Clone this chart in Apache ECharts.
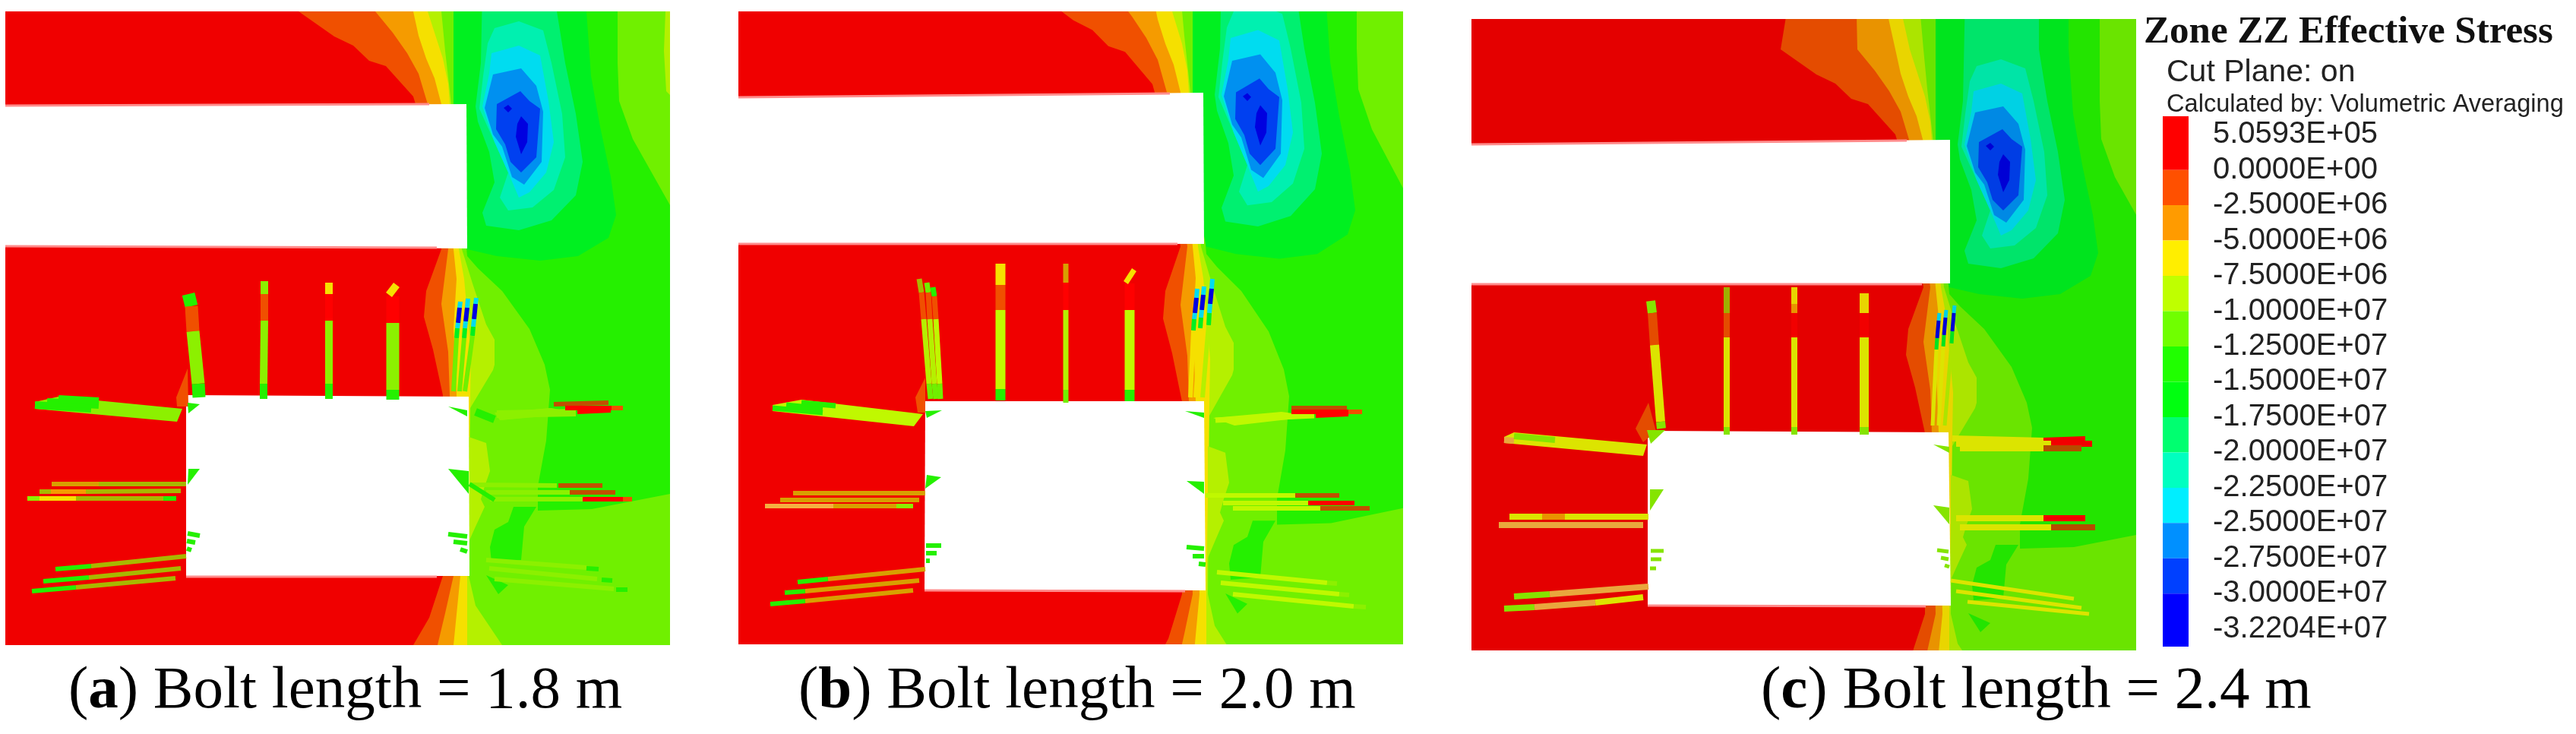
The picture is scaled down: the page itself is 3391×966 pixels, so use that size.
<!DOCTYPE html>
<html>
<head>
<meta charset="utf-8">
<title>Zone ZZ Effective Stress</title>
<style>
    html, body { margin: 0; padding: 0; background: #fff; }
    #main { width: 3391px; height: 966px; }
</style>
<script src="https://cdn.jsdelivr.net/npm/echarts@6/dist/echarts.min.js"></script>
</head>
<body>
<div id="main"></div>
<script>
    // legend
    const legendLabels = ['5.0593E+05', '0.0000E+00', '-2.5000E+06', '-5.0000E+06', '-7.5000E+06', '-1.0000E+07', '-1.2500E+07',
        '-1.5000E+07', '-1.7500E+07', '-2.0000E+07', '-2.2500E+07', '-2.5000E+07', '-2.7500E+07', '-3.0000E+07', '-3.2204E+07'];
    const legendEdges = [-0.52, 1, 2, 3, 4, 5, 6, 7, 8, 9, 10, 11, 12, 13, 14.5];
    const legendColors = ['#ff0000', '#ff5000', '#ff9b00', '#ffee00', '#bfff00', '#70ff00', '#20ff00',
        '#00ff10', '#00ff70', '#00ffc0', '#00eeff', '#0090ff', '#0040ff', '#0000ff'];
    const captions = [['a', '1.8'], ['b', '2.0'], ['c', '2.4']];

    // stress levels in the model (0-13), then the blended shades seen on the bolts (14+)
    const levelColors = ['#f00000', '#f05000', '#f59b00', '#f5e000', '#b5f000', '#70f000', '#25f000',
        '#00f020', '#00f070', '#00f0b0', '#00dcf0', '#0090f0', '#0040f0', '#0000e0',
        '#a8b800', '#d8a000', '#c05000', '#8cf000', '#c0f800', '#f5b040', '#e8f000', '#ff0000', '#ff8c8c'];

    // contour boundaries, x/y in model units; the area right of each one takes the level
    const edgeOrange = [[402, -40], [393, 15], [440, 48], [465, 60], [486, 80], [508, 87], [526, 107], [544, 127], [547, 137],
        [581, 328], [561, 383], [558, 417], [570, 460], [583, 520], [583, 758], [565, 813], [544, 849], [526, 887]];
    const edgeAmber = [[493, -30], [494, 15], [517, 43], [536, 70], [551, 97], [563, 137],
        [590, 328], [581, 400], [590, 463], [592, 520], [597, 758], [586, 807], [576, 849], [561, 887]];
    const edgeYellow = [[534, -30], [544, 15], [551, 47], [561, 77], [572, 103], [581, 137],
        [597, 328], [601, 367], [597, 433], [599, 467], [601, 520], [606, 758], [597, 849], [590, 890]];
    const edgeYellowGreen = [[553, -30], [563, 15], [572, 43], [583, 77], [590, 110], [592, 137],
        [604, 328], [611, 367], [620, 467], [619, 520], [615, 758], [615, 849], [615, 890]];
    const edgeLime = [[577, -30], [581, 15], [586, 67], [594, 137],
        [608, 328], [622, 373], [640, 427], [651, 447], [651, 480], [649, 487], [619, 537], [617, 758], [626, 797], [661, 849], [690, 890]];

    // closed contour regions
    const zoneGreen = [[597, -60], [1000, -60], [1000, 625], [882, 650], [779, 670], [708, 672], [708, 640], [719, 580], [724, 513],
        [717, 480], [697, 433], [661, 383], [629, 353], [615, 337], [597, 137]];
    const zoneLimeRight = [[813, -60], [1000, -60], [1000, 490], [882, 270], [833, 183], [815, 133], [813, 83]];
    const zoneYellowRight = [[877, -60], [1000, -60], [1000, 180], [882, 125], [877, 120], [874, 67], [876, 15]];
    const zoneRoomSide = [[617, 575], [640, 583], [645, 620], [638, 640], [633, 657], [638, 667], [626, 693], [617, 713]];
    const zonePatchUpper = [[676, 667], [706, 667], [690, 693], [686, 737], [647, 740], [645, 720], [651, 697], [669, 687]];
    const zonePatchLower = [[640, 757], [669, 770], [656, 782]];
    const zoneLevel7 = [[597, -60], [772, -60], [772, 15], [778, 100], [790, 167], [804, 233], [811, 283], [801, 313], [761, 337],
        [711, 343], [654, 337], [615, 328], [597, 250]];
    const zoneLevel8 = [[636, -60], [733, -60], [733, 15], [744, 83], [758, 150], [767, 213], [758, 257], [726, 290], [683, 303],
        [640, 297], [635, 280], [651, 240], [644, 200], [629, 160], [626, 140], [633, 83]];
    const zoneLevel9 = [[651, 37], [683, 28], [715, 40], [726, 83], [740, 150], [744, 207], [729, 250], [701, 273], [669, 277],
        [658, 260], [669, 227], [651, 187], [631, 143], [636, 100], [642, 57]];
    const zoneLevel10 = [[647, 70], [683, 60], [711, 73], [722, 133], [729, 187], [719, 227], [697, 253], [683, 260], [669, 227],
        [651, 187], [635, 140], [644, 97]];
    const zoneLevel11 = [[649, 98], [686, 90], [706, 113], [715, 147], [713, 213], [690, 243], [674, 233], [661, 193], [649, 177], [638, 142]];
    const zoneLevel12 = [[654, 137], [685, 120], [697, 133], [711, 143], [706, 207], [686, 227], [672, 213], [665, 190], [653, 170]];
    const zoneLevel13a = [[663, 142], [669, 138], [674, 143], [669, 148]];
    const zoneLevel13b = [[686, 153], [695, 163], [694, 187], [686, 203], [679, 180], [681, 163]];

    // openings and bolts are read in picture units of each panel
    const tunnelA = [[7, 139], [614, 137], [615, 327], [7, 323]];
    const roomA = [[245, 520], [617, 522], [618, 758], [245, 758]];
    const tunnelB = [[972, 128], [1584, 122], [1585, 321], [972, 320]];
    const roomB = [[1218, 528], [1585, 528], [1587, 777], [1217, 776]];
    const tunnelC = [[1937, 190], [2567, 184], [2567, 373], [1937, 374]];
    const roomC = [[2169, 567], [2565, 569], [2568, 797], [2169, 796]];

    // pale rims along the openings: x1, y1, x2, y2, level
    const rimsA = [[7, 139, 565, 137, 22], [7, 324, 575, 326, 22], [245, 759, 575, 759, 22]];
    const rimsB = [[972, 128, 1540, 123, 22], [972, 321, 1550, 321, 22], [1217, 777, 1560, 778, 22]];
    const rimsC = [[1937, 190, 2510, 185, 22], [1937, 374, 2530, 374, 22], [2169, 797, 2535, 798, 22]];

    // bolt segments: x1, y1, x2, y2, level
    const boltsAWide = [[248, 387, 252, 403, 6], [252, 403, 254, 436, 1], [254, 436, 261, 505, 17], [261, 505, 262, 523, 6],
        [517, 390, 517, 425, 21], [517, 425, 517, 513, 17], [517, 513, 517, 526, 6]];
    const boltsAMid = [[348, 370, 348, 387, 17], [348, 387, 348, 422, 1], [348, 422, 347, 505, 17], [347, 505, 347, 525, 6],
        [433, 372, 433, 387, 3], [433, 387, 433, 422, 21], [433, 422, 433, 505, 17], [433, 505, 433, 525, 6],
        [522, 375, 512, 388, 3],
        [46, 533, 120, 538, 6], [62, 529, 130, 533, 6], [77, 525, 130, 528, 6],
        [658, 548, 726, 542, 17], [654, 545, 758, 543, 17], [626, 542, 651, 552, 6]];
    const boltsAThin = [[68, 637, 130, 637, 15], [130, 637, 245, 637, 14], [52, 647, 67, 647, 14], [67, 647, 113, 647, 2], [113, 647, 238, 646, 14],
        [36, 656, 52, 656, 17], [52, 656, 100, 656, 3], [100, 656, 215, 656, 14], [215, 656, 232, 656, 6],
        [73, 749, 120, 745, 6], [120, 745, 245, 732, 14], [57, 765, 117, 760, 6], [117, 760, 238, 748, 14], [42, 778, 100, 773, 6], [100, 773, 231, 761, 14],
        [247, 702, 263, 705, 6], [246, 712, 257, 714, 6], [246, 722, 252, 724, 6],
        [729, 532, 801, 530, 16], [744, 537, 805, 537, 21], [805, 537, 820, 537, 1], [760, 542, 804, 540, 21],
        [620, 638, 733, 639, 17], [735, 639, 793, 639, 16], [640, 648, 750, 648, 17], [750, 648, 810, 648, 16], [645, 657, 767, 657, 17], [767, 657, 820, 657, 21], [820, 657, 832, 657, 1],
        [618, 637, 651, 658, 6],
        [640, 737, 772, 747, 17], [772, 748, 788, 749, 6], [644, 748, 786, 762, 17], [792, 763, 806, 764, 6], [651, 762, 808, 775, 17], [811, 776, 826, 776, 6],
        [590, 703, 615, 706, 6], [597, 713, 615, 715, 6], [606, 723, 615, 726, 6],
        [606, 397, 605, 405, 10], [605, 405, 603, 425, 13], [603, 425, 602, 432, 10], [602, 432, 601, 445, 7], [601, 445, 597, 515, 5],
        [616, 393, 615, 405, 10], [615, 405, 613, 423, 13], [613, 423, 612, 432, 10], [612, 432, 611, 445, 7], [611, 445, 605, 515, 5],
        [627, 392, 626, 400, 10], [626, 400, 624, 420, 13], [624, 420, 623, 430, 10], [623, 430, 622, 442, 7], [622, 442, 612, 515, 5]];
    const tipsA = [[1, [[232, 523], [247, 485], [248, 535], [233, 535]]], [6, [[247, 530], [263, 532], [248, 544]]],
        [17, [[46, 529], [77, 522], [240, 538], [233, 555], [46, 538]]],
        [6, [[248, 617], [263, 617], [247, 638]]], [6, [[590, 535], [615, 540], [615, 548]]], [6, [[590, 617], [617, 620], [617, 650]]],
        [17, [[651, 543], [726, 537], [758, 543], [658, 553]]]];

    const boltsBWide = [[1487, 373, 1487, 408, 21], [1487, 408, 1487, 513, 18], [1487, 513, 1487, 528, 6],
        [1317, 347, 1317, 375, 3], [1317, 375, 1317, 408, 1], [1317, 408, 1317, 512, 18], [1317, 512, 1317, 527, 6]];
    const boltsBMid = [[1210, 367, 1213, 385, 14], [1213, 385, 1216, 420, 1], [1216, 420, 1223, 505, 4], [1223, 505, 1225, 525, 5],
        [1220, 372, 1222, 385, 5], [1222, 385, 1224, 420, 1], [1224, 420, 1230, 505, 4], [1230, 505, 1232, 525, 5],
        [1228, 378, 1230, 390, 6], [1230, 390, 1232, 420, 1], [1232, 420, 1237, 505, 18], [1237, 505, 1238, 525, 5],
        [1403, 347, 1403, 372, 15], [1403, 372, 1403, 408, 21], [1403, 408, 1403, 513, 4], [1403, 513, 1403, 530, 5],
        [1493, 355, 1482, 372, 3],
        [1017, 537, 1083, 543, 6], [1035, 533, 1083, 538, 6], [1055, 530, 1100, 534, 6],
        [1625, 556, 1687, 546, 18], [1600, 553, 1730, 547, 18]];
    const boltsBThin = [[1044, 649, 1218, 649, 15], [1027, 658, 1210, 658, 15], [1007, 666, 1097, 666, 19], [1097, 666, 1180, 666, 15], [1180, 666, 1202, 666, 17],
        [1050, 766, 1090, 762, 6], [1090, 762, 1218, 749, 15], [1033, 780, 1060, 778, 6], [1060, 778, 1210, 764, 15], [1014, 795, 1060, 791, 6], [1060, 791, 1202, 777, 15],
        [1219, 718, 1239, 718, 6], [1219, 728, 1233, 728, 6], [1219, 738, 1224, 738, 6],
        [1700, 537, 1773, 537, 16], [1700, 542, 1775, 542, 21], [1775, 542, 1793, 542, 1], [1732, 547, 1775, 545, 21],
        [1587, 652, 1705, 652, 18], [1705, 652, 1763, 652, 16], [1610, 662, 1722, 662, 18], [1722, 662, 1783, 662, 21], [1623, 669, 1738, 669, 18], [1738, 669, 1803, 669, 16],
        [1602, 753, 1747, 767, 18], [1747, 767, 1760, 768, 17], [1607, 767, 1763, 782, 18], [1763, 782, 1776, 783, 17], [1623, 782, 1782, 798, 18], [1782, 798, 1798, 799, 17],
        [1562, 720, 1585, 722, 6], [1570, 732, 1585, 732, 6], [1578, 742, 1587, 743, 6],
        [1576, 380, 1575, 392, 10], [1575, 392, 1573, 412, 13], [1573, 412, 1572, 420, 10], [1572, 420, 1571, 435, 7], [1571, 435, 1567, 523, 3],
        [1585, 377, 1584, 388, 10], [1584, 388, 1582, 408, 13], [1582, 408, 1581, 418, 10], [1581, 418, 1580, 432, 7], [1580, 432, 1574, 523, 3],
        [1596, 367, 1595, 380, 10], [1595, 380, 1593, 400, 13], [1593, 400, 1592, 412, 10], [1592, 412, 1591, 428, 7], [1591, 428, 1583, 523, 4]];
    const tipsB = [[1, [[1205, 523], [1218, 497], [1218, 543], [1208, 543]]], [6, [[1218, 541], [1240, 540], [1220, 550]]],
        [18, [[1017, 533], [1055, 526], [1215, 545], [1203, 561], [1017, 541]]],
        [6, [[1218, 643], [1220, 625], [1239, 628]]], [6, [[1560, 541], [1585, 543], [1585, 550]]], [6, [[1562, 633], [1585, 634], [1585, 650]]],
        [18, [[1597, 550], [1687, 542], [1730, 548], [1625, 560]]]];

    const boltsCWide = [[2173, 396, 2175, 412, 17], [2175, 412, 2178, 454, 1], [2178, 454, 2186, 555, 20], [2186, 555, 2187, 564, 17],
        [2454, 386, 2454, 412, 3], [2454, 412, 2454, 444, 21], [2454, 444, 2454, 562, 20], [2454, 562, 2454, 572, 17]];
    const boltsCMid = [[2273, 378, 2273, 412, 14], [2273, 412, 2273, 444, 1], [2273, 444, 2273, 562, 20], [2273, 562, 2273, 572, 17],
        [2362, 378, 2362, 400, 3], [2362, 400, 2362, 412, 2], [2362, 412, 2362, 444, 21], [2362, 444, 2362, 562, 20], [2362, 562, 2362, 572, 17],
        [1980, 579, 1993, 580, 19], [1993, 574, 2047, 579, 17],
        [1987, 680, 2030, 680, 20], [2030, 680, 2060, 680, 2], [2060, 680, 2170, 680, 20], [1973, 691, 2163, 691, 19],
        [1993, 785, 2040, 782, 17], [2040, 782, 2170, 772, 19], [1980, 801, 2020, 799, 17], [2020, 799, 2100, 793, 19], [2100, 793, 2163, 786, 20],
        [2570, 577, 2690, 580, 20], [2690, 580, 2745, 578, 21], [2575, 584, 2700, 584, 20], [2700, 584, 2754, 584, 21], [2580, 590, 2690, 590, 20], [2690, 590, 2740, 590, 16],
        [2575, 682, 2690, 682, 20], [2690, 682, 2745, 682, 21], [2580, 694, 2700, 694, 20], [2700, 694, 2758, 694, 16]];
    const boltsCThin = [[2568, 764, 2730, 788, 20], [2575, 778, 2740, 800, 20], [2590, 792, 2750, 808, 20],
        [2173, 725, 2190, 725, 17], [2173, 736, 2187, 736, 17], [2172, 748, 2180, 748, 17],
        [2550, 724, 2565, 726, 17], [2555, 734, 2565, 736, 17], [2560, 744, 2566, 746, 17],
        [2553, 412, 2552, 422, 10], [2552, 422, 2550, 445, 13], [2550, 445, 2549, 460, 7], [2549, 460, 2544, 560, 20],
        [2562, 408, 2561, 418, 10], [2561, 418, 2559, 441, 13], [2559, 441, 2558, 456, 7], [2558, 456, 2552, 560, 20],
        [2573, 402, 2572, 412, 10], [2572, 412, 2570, 436, 13], [2570, 436, 2569, 452, 7], [2569, 452, 2560, 560, 4]];
    const tipsC = [[1, [[2153, 564], [2170, 530], [2180, 568], [2163, 582]]], [17, [[2168, 566], [2192, 566], [2173, 584]]],
        [20, [[1980, 575], [1993, 569], [2168, 585], [2163, 600], [1980, 583]]],
        [17, [[2172, 644], [2190, 644], [2172, 672]]], [17, [[2545, 585], [2566, 588], [2566, 596]]], [17, [[2545, 665], [2566, 668], [2566, 690]]]];

    const myChart = echarts.init(document.getElementById('main'));

    function closeRight(edge) {
        return edge.concat([[1000, 900], [1000, -60]]);
    }

    const fieldLayers = [
        [0, [[-100, -100], [1000, -100], [1000, 900], [-100, 900]]],
        [1, closeRight(edgeOrange)], [2, closeRight(edgeAmber)], [3, closeRight(edgeYellow)],
        [4, closeRight(edgeYellowGreen)], [5, closeRight(edgeLime)],
        [6, zoneGreen], [5, zoneLimeRight], [4, zoneYellowRight], [4, zoneRoomSide], [6, zonePatchUpper], [6, zonePatchLower],
        [7, zoneLevel7], [8, zoneLevel8], [9, zoneLevel9], [10, zoneLevel10], [11, zoneLevel11], [12, zoneLevel12],
        [13, zoneLevel13a], [13, zoneLevel13b]
    ];

    // panel (c) is printed a little darker than the other two
    function shade(color, factor) {
        const r = parseInt(color.slice(1, 3), 16) * factor;
        const g = parseInt(color.slice(3, 5), 16) * factor;
        const b = parseInt(color.slice(5, 7), 16) * factor;
        return 'rgb(' + Math.round(r) + ',' + Math.round(g) + ',' + Math.round(b) + ')';
    }

    function polygonSeries(layers, xAxisIndex, yAxisIndex, factor) {
        return {
            type: 'custom',
            coordinateSystem: 'cartesian2d',
            xAxisIndex: xAxisIndex,
            yAxisIndex: yAxisIndex,
            clip: true,
            silent: true,
            data: layers.map(function (l, i) { return [i]; }),
            renderItem: function (params, api) {
                const layer = layers[params.dataIndex];
                return {
                    type: 'polygon',
                    shape: {points: layer[1].map(function (p) { return api.coord(p); })},
                    style: {fill: layer[0] < 0 ? '#fff' : shade(levelColors[layer[0]], factor)}
                };
            }
        };
    }

    function boltSeries(segments, width, xAxisIndex, yAxisIndex, factor) {
        return {
            type: 'custom',
            coordinateSystem: 'cartesian2d',
            xAxisIndex: xAxisIndex,
            yAxisIndex: yAxisIndex,
            clip: true,
            silent: true,
            data: segments,
            renderItem: function (params, api) {
                const s = segments[params.dataIndex];
                const a = api.coord([s[0], s[1]]);
                const b = api.coord([s[2], s[3]]);
                return {
                    type: 'line',
                    shape: {x1: a[0], y1: a[1], x2: b[0], y2: b[1]},
                    style: {stroke: shade(levelColors[s[4]], factor), lineWidth: width}
                };
            }
        };
    }

    const panels = [
        {left: 7, top: 15, width: 875, height: 834, fieldX: [7, 882], fieldY: [15, 849], voids: [tunnelA, roomA], rims: rimsA, tips: tipsA,
            bolts: [[boltsAWide, 17], [boltsAMid, 10], [boltsAThin, 6]], factor: 1},
        {left: 972, top: 15, width: 875, height: 833, fieldX: [-1, 874], fieldY: [37, 820], voids: [tunnelB, roomB], rims: rimsB, tips: tipsB,
            bolts: [[boltsBWide, 13], [boltsBMid, 7], [boltsBThin, 6]], factor: 1},
        {left: 1937, top: 25, width: 875, height: 831, fieldX: [-14, 861], fieldY: [-25, 806], voids: [tunnelC, roomC], rims: rimsC, tips: tipsC,
            bolts: [[boltsCWide, 12], [boltsCMid, 8], [boltsCThin, 5]], factor: 0.95}
    ];

    const grids = [], xAxes = [], yAxes = [], seriesList = [];
    panels.forEach(function (p, i) {
        grids.push({left: p.left, top: p.top, width: p.width, height: p.height, show: false});
        // the field axes carry the shared contours, the picture axes carry this panel's own openings and bolts
        xAxes.push({type: 'value', gridIndex: i, show: false, min: p.fieldX[0], max: p.fieldX[1]});
        yAxes.push({type: 'value', gridIndex: i, show: false, inverse: true, min: p.fieldY[0], max: p.fieldY[1]});
        xAxes.push({type: 'value', gridIndex: i, show: false, min: p.left, max: p.left + p.width});
        yAxes.push({type: 'value', gridIndex: i, show: false, inverse: true, min: p.top, max: p.top + p.height});
        seriesList.push(polygonSeries(fieldLayers, i * 2, i * 2, p.factor));
        seriesList.push(polygonSeries(p.voids.map(function (v) { return [-1, v]; }), i * 2 + 1, i * 2 + 1, p.factor));
        seriesList.push(boltSeries(p.rims, 3, i * 2 + 1, i * 2 + 1, 1));
        seriesList.push(polygonSeries(p.tips, i * 2 + 1, i * 2 + 1, p.factor));
        p.bolts.forEach(function (b) {
            seriesList.push(boltSeries(b[0], b[1], i * 2 + 1, i * 2 + 1, p.factor));
        });
    });

    // colour bar, one axis unit per legend row
    grids.push({left: 2847, top: 153, width: 34, height: 698, show: false});
    xAxes.push({type: 'value', gridIndex: 3, show: false, min: 0, max: 1});
    yAxes.push({type: 'value', gridIndex: 3, show: false, inverse: true, min: -0.52, max: 14.5});
    const legendAxis = panels.length * 2;
    seriesList.push({
        type: 'custom',
        coordinateSystem: 'cartesian2d',
        xAxisIndex: legendAxis,
        yAxisIndex: legendAxis,
        silent: true,
        data: legendColors.map(function (c, i) { return [i]; }),
        renderItem: function (params, api) {
            const i = params.dataIndex;
            const a = api.coord([0, legendEdges[i]]);
            const b = api.coord([1, legendEdges[i + 1]]);
            return {type: 'rect', shape: {x: a[0], y: a[1], width: b[0] - a[0], height: b[1] - a[1]}, style: {fill: legendColors[i]}};
        }
    });
    seriesList.push({
        type: 'custom',
        coordinateSystem: 'cartesian2d',
        xAxisIndex: legendAxis,
        yAxisIndex: legendAxis,
        silent: true,
        data: legendLabels.map(function (t, i) { return [i]; }),
        renderItem: function (params, api) {
            const at = api.coord([0, params.dataIndex]);
            return {
                type: 'text',
                style: {
                    text: legendLabels[params.dataIndex], x: at[0] + 66, y: at[1],
                    fill: '#222', font: '40px "Liberation Sans"', verticalAlign: 'middle'
                }
            };
        }
    });

    const captionLeft = [85, 1046, 2313];
    const titles = captions.map(function (c, i) {
        return {
            text: '{n|(}{b|' + c[0] + '}{n|) Bolt length = ' + c[1] + ' m}',
            left: captionLeft[i],
            top: 866,
            textStyle: {
                fontWeight: 'normal',
                rich: {
                    n: {fontFamily: 'Liberation Serif', fontSize: 79, fontWeight: 'normal', color: '#000'},
                    b: {fontFamily: 'Liberation Serif', fontSize: 79, fontWeight: 'bold', color: '#000'}
                }
            }
        };
    });
    titles.push({text: 'Zone ZZ Effective Stress', left: 2817, top: 12,
        textStyle: {fontFamily: 'Liberation Serif', fontSize: 51, fontWeight: 'bold', color: '#111'}});
    titles.push({text: 'Cut Plane: on', left: 2847, top: 70,
        textStyle: {fontFamily: 'Liberation Sans', fontSize: 41, fontWeight: 'normal', color: '#222'}});
    titles.push({text: 'Calculated by: Volumetric Averaging', left: 2847, top: 117,
        textStyle: {fontFamily: 'Liberation Sans', fontSize: 32.6, fontWeight: 'normal', color: '#222'}});

    myChart.setOption({
        animation: false,
        backgroundColor: '#fff',
        title: titles,
        grid: grids,
        xAxis: xAxes,
        yAxis: yAxes,
        series: seriesList
    });
</script>
</body>
</html>
